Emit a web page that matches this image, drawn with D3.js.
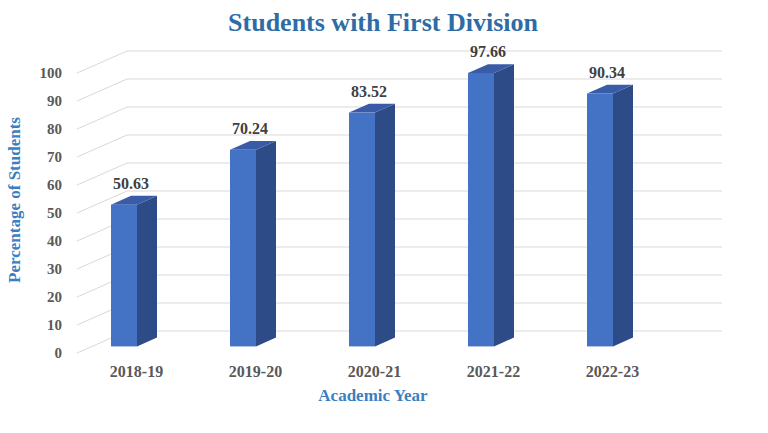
<!DOCTYPE html>
<html>
<head>
<meta charset="utf-8">
<script src="https://cdn.jsdelivr.net/npm/d3@7"></script>
<style>
  body { margin: 0; background: #fff; }
  svg text { font-family: "Liberation Serif", "DejaVu Serif", serif; font-weight: bold; }
</style>
</head>
<body>
<svg id="chart" width="768" height="433"></svg>
<script>
// Data
const years = ['2018-19', '2019-20', '2020-21', '2021-22', '2022-23'];
const values = [50.63, 70.24, 83.52, 97.66, 90.34];
const ticks = [0, 10, 20, 30, 40, 50, 60, 70, 80, 90, 100];

const svg = d3.select('#chart');

// Oblique depth projection (full depth of plot box)
const depthX = 50, depthY = -22;
const barDepth0 = 0.3, barDepth1 = 0.7;

// Front-plane scales
const x = d3.scaleBand().domain(years).range([77, 672]);
const y = d3.scaleLinear().domain([0, 100]).range([353, 73]);

const proj = (px, py, d) => [px + depthX * d, py + depthY * d];

// Gridlines: side wall diagonals + back wall
const grid = svg.append('g').attr('stroke', '#d9d9d9').attr('stroke-width', 1);
ticks.forEach(t => {
  const [bx, by] = proj(x.range()[0], y(t), 1);
  const [ex] = proj(x.range()[1], y(t), 1);
  grid.append('line')
    .attr('x1', x.range()[0]).attr('y1', y(t))
    .attr('x2', bx).attr('y2', by);
  grid.append('line')
    .attr('x1', bx).attr('y1', by)
    .attr('x2', ex).attr('y2', by);
});

// Tick labels
svg.append('g').selectAll('text')
  .data(ticks).join('text')
  .attr('x', 62).attr('y', d => y(d) + 5)
  .attr('text-anchor', 'end')
  .attr('font-size', 15).attr('fill', '#595959')
  .text(d => d);

// Bars
const barW = 26;
const barOff = 19;
const bars = svg.append('g');
years.forEach((yr, i) => {
  const v = values[i];
  const fx = x(yr) + barOff;
  const [x0, yb] = proj(fx, y(0), barDepth0);
  const [, yt] = proj(fx, y(v), barDepth0);
  const dx = depthX * (barDepth1 - barDepth0), dy = depthY * (barDepth1 - barDepth0);
  const x1 = x0 + barW;

  // side face
  bars.append('path')
    .attr('d', `M${x1},${yt}L${x1 + dx},${yt + dy}L${x1 + dx},${yb + dy}L${x1},${yb}Z`)
    .attr('fill', '#2d4b86');
  // top face
  bars.append('path')
    .attr('d', `M${x0},${yt}L${x0 + dx},${yt + dy}L${x1 + dx},${yt + dy}L${x1},${yt}Z`)
    .attr('fill', '#3a5ca6');
  // front face
  bars.append('rect')
    .attr('x', x0).attr('y', yt)
    .attr('width', barW).attr('height', yb - yt)
    .attr('fill', '#4472c4');

  // value label
  svg.append('text')
    .attr('x', x0 + 20).attr('y', yt + dy - 7)
    .attr('text-anchor', 'middle')
    .attr('font-size', 16).attr('fill', '#404040')
    .text(v.toFixed(2));
});

// Category labels
svg.append('g').selectAll('text')
  .data(years).join('text')
  .attr('x', d => x(d) + x.bandwidth() / 2)
  .attr('y', 377)
  .attr('text-anchor', 'middle')
  .attr('font-size', 16).attr('fill', '#595959')
  .text(d => d);

// Titles
svg.append('text')
  .attr('x', 383).attr('y', 31)
  .attr('text-anchor', 'middle')
  .attr('font-size', 26).attr('fill', '#2e6ca5')
  .text('Students with First Division');

svg.append('text')
  .attr('x', 373).attr('y', 401)
  .attr('text-anchor', 'middle')
  .attr('font-size', 17).attr('fill', '#3a7fc1')
  .text('Academic Year');

svg.append('text')
  .attr('transform', 'translate(20,200) rotate(-90)')
  .attr('text-anchor', 'middle')
  .attr('font-size', 17).attr('fill', '#3a7fc1')
  .text('Percentage of Students');
</script>
</body>
</html>
